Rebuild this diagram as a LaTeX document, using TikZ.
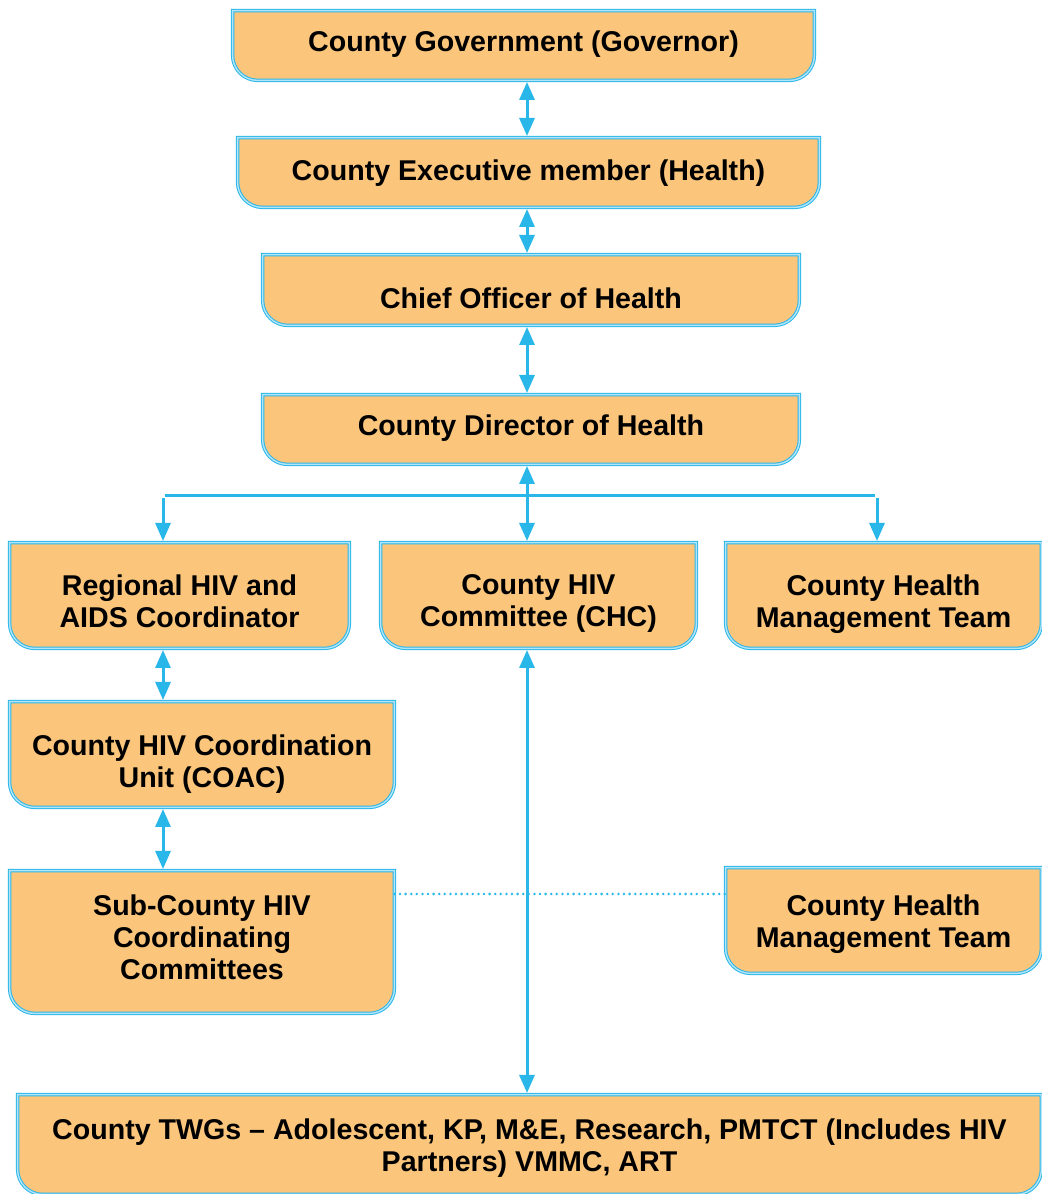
\documentclass[tikz,border=0pt]{standalone}
\usepackage{fontspec}
\setmainfont{Liberation Sans}
\usetikzlibrary{arrows.meta}
\usetikzlibrary{backgrounds}

\definecolor{linkblue}{RGB}{41,182,233}
\definecolor{tierfill}{RGB}{251,198,124}

\tikzset{
  tier/.style={inner sep=0pt},
  tiertext/.style={inner sep=0pt, align=center, font=\bfseries\fontsize{14.3}{16}\selectfont,
    execute at begin node=\strut, execute at end node=\strut},
  tierframe/.style={fill=tierfill, draw=linkblue, double=linkblue!35, double distance=0.7pt, line width=0.5pt},
  link/.style={linkblue, line width=1.5pt, >={Triangle[width=7.5pt,length=9pt]}, shorten >=0.8pt, shorten <=0.8pt},
  liaison/.style={linkblue, line width=1.4pt, line cap=round, dash pattern=on 0pt off 2.8pt}
}

\begin{document}
\begin{tikzpicture}[x=0.5pt,y=0.5pt]
\useasboundingbox (0,0) rectangle (1042,1194);

% boxes
\node[tier, minimum width=290.5pt, minimum height=34.5pt] (gov)   at (523.5,1148.5) {};
\node[tier, minimum width=290.5pt, minimum height=34.5pt] (exec)  at (528.5,1021.5) {};
\node[tier, minimum width=268pt,   minimum height=35pt]   (chief) at (531,904)      {};
\node[tier, minimum width=268pt,   minimum height=34.5pt] (cdh)   at (531,764.5)    {};
\node[tier, minimum width=169.5pt, minimum height=52.5pt] (rhac)  at (179.5,598.5)  {};
\node[tier, minimum width=157.5pt, minimum height=52.5pt] (chc)   at (538.5,598.5)  {};
\node[tier, minimum width=157.5pt, minimum height=52.5pt] (chmt)  at (883.5,598.5)  {};
\node[tier, minimum width=192pt,   minimum height=52.5pt] (coac)  at (202,439.5)    {};
\node[tier, minimum width=192pt,   minimum height=71pt]   (schc)  at (202,252)      {};
\node[tier, minimum width=157.5pt, minimum height=52.5pt] (chmtb) at (883.5,273.5)  {};
\node[tier, minimum width=511.5pt, minimum height=49.5pt] (twg)   at (529.5,49.5)   {};

% square on top, rounded below
\begin{scope}[on background layer]
\foreach \n in {gov,exec,chief,cdh,rhac,chc,chmt,coac,schc,chmtb,twg}
  \path[tierframe] (\n.north west) -- ([yshift=12.5pt]\n.south west)
    arc[start angle=180, end angle=270, radius=12.5pt] -- ([xshift=-12.5pt]\n.south east)
    arc[start angle=270, end angle=360, radius=12.5pt] -- (\n.north east) -- cycle;
\end{scope}

% labels
\node[tiertext] (gov-t)   at (gov.center)                  {County Government (Governor)};
\node[tiertext] (exec-t)  at ([yshift=-0.6pt]exec.center)  {County Executive member (Health)};
\node[tiertext] (chief-t) at ([yshift=-5.9pt]chief.center) {Chief Officer of Health};
\node[tiertext] (cdh-t)   at (cdh.center)                  {County Director of Health};
\node[tiertext] (rhac-t)  at ([yshift=-5.1pt]rhac.center)  {Regional HIV and\\AIDS Coordinator};
\node[tiertext] (chc-t)   at ([yshift=-5.1pt]chc.center)   {County HIV\\Committee (CHC)};
\node[tiertext] (chmt-t)  at ([yshift=-5.1pt]chmt.center)  {County Health\\Management Team};
\node[tiertext] (coac-t)  at ([yshift=-5.6pt]coac.center)  {County HIV Coordination\\Unit (COAC)};
\node[tiertext] (schc-t)  at (schc.center)                 {Sub-County HIV\\Coordinating\\Committees};
\node[tiertext] (chmtb-t) at ([yshift=-2.6pt]chmtb.center) {County Health\\Management Team};
\node[tiertext] (twg-t)   at ([yshift=-2.6pt]twg.center)   {County TWGs -- Adolescent, KP, M\&E, Research, PMTCT (Includes HIV\\Partners) VMMC, ART};

\coordinate (spine) at (527,698);
\coordinate (westdrop) at (163,698);
\coordinate (eastdrop) at (877,698);
\coordinate (tie) at (0,300);

\draw[link,<->] (gov.south -| spine) -- (exec.north -| spine);
\draw[link,<->] (exec.south -| spine) -- (chief.north -| spine);
\draw[link,<->] (chief.south -| spine) -- (cdh.north -| spine);
\draw[link,<->] (cdh.south -| spine) -- (chc.north -| spine);
\draw[link] (westdrop) -- (eastdrop);
\draw[link,->] (westdrop) -- (rhac.north -| westdrop);
\draw[link,->] (eastdrop) -- (chmt.north -| eastdrop);
\draw[link,<->] (rhac.south -| westdrop) -- (coac.north -| westdrop);
\draw[link,<->] (coac.south -| westdrop) -- (schc.north -| westdrop);
\draw[link,<->] (chc.south -| spine) -- (twg.north -| spine);
\draw[liaison] (schc.east |- tie) -- (chmtb.west |- tie);
\end{tikzpicture}
\end{document}
